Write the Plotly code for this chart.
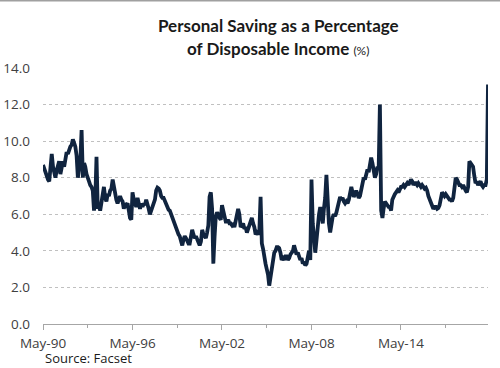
import plotly.graph_objects as go
import pandas as pd

# Personal saving rate (%), monthly, May-1990 .. Mar-2020
start_month = "1990-05-01"
y1990 = [8.7, 8.5, 8.2, 8.0, 7.9, 7.8, 8.8, 9.3]
y1991 = [8.6, 8.2, 8.0, 8.4, 8.7, 8.9, 8.2, 8.5, 8.9, 8.6, 9.0, 9.4]
y1992 = [9.3, 9.6, 9.7, 9.8, 10.1, 9.9, 9.7, 9.2, 8.0, 8.5, 9.0, 10.6]
y1993 = [8.0, 8.8, 8.6, 8.2, 7.9, 7.8, 7.6, 7.5, 7.3, 6.2, 6.8, 9.15]
y1994 = [6.3, 6.5, 6.2, 6.6, 7.0, 7.5, 6.9, 6.7, 7.1, 7.0, 7.3, 7.4]
y1995 = [7.9, 7.5, 7.0, 6.8, 6.6, 6.9, 7.0, 6.8, 6.7, 6.3, 6.6, 6.5]
y1996 = [6.6, 6.2, 5.8, 5.7, 7.2, 6.8, 6.5, 6.4, 6.9, 6.5, 6.3, 6.6]
y1997 = [6.4, 6.6, 6.5, 6.8, 6.6, 6.3, 6.0, 6.2, 6.3, 6.5, 6.8, 7.3]
y1998 = [7.45, 7.4, 7.3, 7.0, 6.9, 6.9, 6.7, 6.6, 6.4, 6.25, 6.2, 6.0]
y1999 = [5.9, 5.7, 5.5, 5.3, 5.1, 4.9, 4.8, 4.5, 4.3, 4.6, 4.8, 4.7]
y2000 = [4.5, 4.4, 4.4, 4.8, 5.15, 4.9, 4.7, 4.8, 4.6, 4.4, 4.3, 4.5]
y2001 = [5.15, 4.9, 4.8, 4.7, 5.0, 5.4, 6.95, 7.2, 6.3, 3.3, 4.8, 5.9]
y2002 = [6.1, 6.0, 5.8, 5.7, 6.5, 6.1, 5.7, 5.6, 5.6, 5.7, 5.5, 5.5]
y2003 = [5.4, 5.5, 5.3, 5.6, 5.8, 6.3, 6.0, 5.3, 5.4, 5.5, 5.2, 5.3]
y2004 = [5.0, 5.2, 5.3, 5.5, 5.8, 5.5, 5.3, 4.9, 5.0, 4.9, 5.1, 6.95]
y2005 = [4.4, 4.1, 3.6, 3.3, 3.0, 2.7, 2.1, 2.6, 3.1, 3.5, 3.9, 4.0]
y2006 = [4.2, 4.2, 4.15, 3.9, 3.5, 3.6, 3.5, 3.7, 3.7, 3.5, 3.6, 3.8]
y2007 = [3.9, 4.0, 4.3, 4.1, 3.8, 3.9, 3.7, 3.5, 3.6, 3.3, 3.4, 3.2]
y2008 = [3.3, 3.6, 4.0, 3.5, 7.9, 5.5, 4.8, 3.9, 4.6, 5.4, 6.0, 6.4]
y2009 = [6.0, 5.5, 6.3, 6.9, 8.15, 6.6, 5.5, 5.0, 5.5, 5.85, 6.0, 5.9]
y2010 = [6.1, 6.4, 6.6, 6.95, 6.8, 6.9, 6.7, 6.6, 6.7, 6.6, 6.8, 7.1]
y2011 = [7.5, 7.2, 6.95, 7.1, 7.3, 7.1, 6.9, 7.0, 7.4, 7.7, 8.0, 7.9]
y2012 = [8.2, 8.45, 8.3, 8.7, 9.1, 8.8, 8.3, 8.0, 8.2, 8.6, 8.5, 12.0]
y2013 = [6.2, 5.8, 6.3, 6.7, 6.6, 6.5, 6.4, 6.4, 6.2, 6.8, 7.0, 7.1]
y2014 = [7.2, 7.3, 7.2, 7.4, 7.5, 7.5, 7.6, 7.5, 7.6, 7.7, 7.6, 7.8]
y2015 = [7.9, 7.8, 7.6, 7.7, 7.7, 7.6, 7.7, 7.6, 7.5, 7.6, 7.5, 7.4]
y2016 = [7.45, 7.3, 7.0, 6.8, 6.6, 6.35, 6.3, 6.4, 6.4, 6.3, 6.35, 6.5]
y2017 = [6.9, 7.2, 7.1, 7.0, 7.1, 7.0, 6.9, 6.8, 6.8, 6.7, 6.9, 7.4]
y2018 = [8.0, 7.9, 7.7, 7.6, 7.6, 7.5, 7.6, 7.4, 7.3, 7.2, 7.5, 8.9]
y2019 = [8.8, 8.7, 8.6, 8.1, 7.7, 7.8, 7.6, 7.7, 7.8, 7.6, 7.5, 7.6]
y2020 = [7.6, 7.9, 13.1]

saving_rate = (y1990 + y1991 + y1992 + y1993 + y1994 + y1995 + y1996 + y1997
               + y1998 + y1999 + y2000 + y2001 + y2002 + y2003 + y2004 + y2005
               + y2006 + y2007 + y2008 + y2009 + y2010 + y2011 + y2012 + y2013
               + y2014 + y2015 + y2016 + y2017 + y2018 + y2019 + y2020)

dates = [d.strftime("%Y-%m-%d") for d in
         pd.date_range(start_month, periods=len(saving_rate), freq="MS")]

x_tick_vals = ["1990-05-01", "1996-05-01", "2002-05-01", "2008-05-01", "2014-05-01"]
x_tick_text = ["May-90", "May-96", "May-02", "May-08", "May-14"]
x_minor_vals = ["1993-05-01", "1999-05-01", "2005-05-01", "2011-05-01", "2017-05-01"]
y_tick_vals = [0, 2, 4, 6, 8, 10, 12, 14]
y_tick_text = ["0.0", "2.0", "4.0", "6.0", "8.0", "10.0", "12.0", "14.0"]

title_line1 = "Personal Saving as a Percentage"
title_line2 = "of Disposable Income"
title_unit = "(%)"
source_text = "Source: Facset"

fig = go.Figure()
fig.add_trace(go.Scatter(
    x=dates, y=saving_rate, mode="lines",
    line=dict(color="#10243f", width=3.8),
    hoverinfo="skip", cliponaxis=False,
))

W, H = 500, 368
ml, mr, mt, mb = 43, 12, 68, 44
pw, ph = W - ml - mr, H - mt - mb

def py(ypix):
    return (H - mb - ypix) / ph

def px(xpix):
    return (xpix - ml) / pw

label_font = dict(family="Open Sans, sans-serif", size=13.5, color="#404040")

fig.update_layout(
    width=W, height=H,
    margin=dict(l=ml, r=mr, t=mt, b=mb, autoexpand=False),
    paper_bgcolor="white", plot_bgcolor="white",
    showlegend=False,
    xaxis=dict(
        type="date", automargin=False,
        range=["1990-05-01", "2020-03-01"],
        tickvals=x_tick_vals, ticktext=x_tick_text,
        showgrid=False, zeroline=False,
        showline=True, linecolor="#a6a6a6", linewidth=1.2,
        ticks="outside", ticklen=5, tickcolor="#a6a6a6", tickwidth=1,
        minor=dict(tickvals=x_minor_vals, ticks="outside", ticklen=3,
                   tickcolor="#a6a6a6", tickwidth=1, showgrid=False),
        tickfont=label_font,
        ticklabelstandoff=2,
    ),
    yaxis=dict(
        range=[0, 14], automargin=False,
        tickvals=y_tick_vals, ticktext=y_tick_text,
        showgrid=True, gridcolor="#c0c0c0", griddash="dot", gridwidth=1,
        zeroline=False, showline=False,
        tickfont=label_font,
        ticklabelstandoff=12,
    ),
    font=dict(family="Open Sans, sans-serif"),
)

fig.add_annotation(
    x=px(278), y=py(25), xref="paper", yref="paper",
    text=title_line1, showarrow=False, xanchor="center", yanchor="middle",
    font=dict(family="Lato, sans-serif", size=17, color="#1a1a1a", weight="bold"),
)
fig.add_annotation(
    x=px(278), y=py(48), xref="paper", yref="paper",
    text=(title_line2 + " <span style='font-size:12px;font-weight:normal'>" + title_unit + "</span>"),
    showarrow=False, xanchor="center", yanchor="middle",
    font=dict(family="Lato, sans-serif", size=17, color="#1a1a1a", weight="bold"),
)
fig.add_annotation(
    x=px(43), y=py(358), xref="paper", yref="paper",
    text=source_text, showarrow=False, xanchor="left", yanchor="middle",
    font=dict(family="Open Sans, sans-serif", size=13, color="#1a1a1a"),
)
fig.add_shape(type="line", xref="paper", yref="paper",
              x0=px(0), x1=px(W), y0=py(0.8), y1=py(0.8),
              line=dict(color="#a0a0a0", width=1.6))

fig.write_html("out.html",
               config={"displayModeBar": False, "staticPlot": True},
               post_script="document.body.style.margin='0';document.body.style.padding='0';")
